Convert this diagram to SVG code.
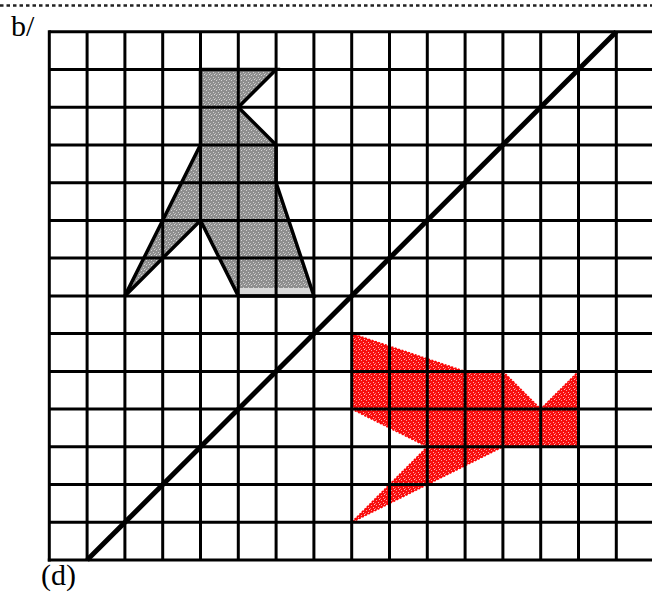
<svg xmlns="http://www.w3.org/2000/svg" width="652" height="592" viewBox="0 0 652 592">
<style>
.grid line{stroke:#000;stroke-width:3}
.lbl{font-family:"Liberation Serif","Times New Roman",serif;font-size:30px;fill:#000}
</style>
<defs>
<pattern id="grayTex" width="5" height="5" patternUnits="userSpaceOnUse">
<rect width="5" height="5" fill="#8e8e8e"/>
<rect x="1" y="0" width="1" height="1" fill="#d4d4d4"/>
<rect x="3" y="2" width="1" height="1" fill="#d0d0d0"/>
<rect x="0" y="3" width="1" height="1" fill="#bdbdbd"/>
<rect x="4" y="4" width="1" height="1" fill="#d8d8d8"/>
<rect x="2" y="4" width="1" height="1" fill="#a6a6a6"/>
</pattern>
<pattern id="redTex" width="5" height="5" patternUnits="userSpaceOnUse">
<rect width="5" height="5" fill="#f80f0f"/>
<rect x="1" y="0" width="1" height="1" fill="#ff9a9a"/>
<rect x="3" y="2" width="1" height="1" fill="#ffb0b0"/>
<rect x="0" y="3" width="1" height="1" fill="#ff7070"/>
<rect x="4" y="4" width="1" height="1" fill="#ffc0c0"/>
</pattern>
</defs>
<rect width="652" height="592" fill="#fff"/>
<line x1="0" y1="5.5" x2="652" y2="5.5" stroke="#222" stroke-width="2.5" stroke-dasharray="3.5,3"/>
<text class="lbl" x="11" y="36">b/</text>
<text class="lbl" x="41" y="585">(d)</text>
<g id="red-shape">
<polygon points="351.7,333.6 465.1,371.4 502.9,371.4 540.7,409.1 578.5,371.4 578.5,446.8 502.9,446.8 351.7,522.3 427.3,446.8 351.7,409.1" fill="url(#redTex)" stroke="#f00" stroke-width="1.5" stroke-dasharray="2,1.5"/>
</g>
<g id="gray-fill">
<polygon points="200.5,69.4 276.1,69.4 238.3,107.2 276.1,144.9 276.1,182.7 313.9,295.9 238.3,295.9 200.5,220.4 124.9,295.9 200.5,144.9" fill="url(#grayTex)"/>
<polygon points="238.3,288 311.3,288 313.9,295.9 238.3,295.9" fill="#d8d8d8"/>
</g>
<g id="grid" class="grid">
<line x1="49.3" y1="31.7" x2="652" y2="31.7"/>
<line x1="49.3" y1="69.4" x2="652" y2="69.4"/>
<line x1="49.3" y1="107.2" x2="652" y2="107.2"/>
<line x1="49.3" y1="144.9" x2="652" y2="144.9"/>
<line x1="49.3" y1="182.7" x2="652" y2="182.7"/>
<line x1="49.3" y1="220.4" x2="652" y2="220.4"/>
<line x1="49.3" y1="258.1" x2="652" y2="258.1"/>
<line x1="49.3" y1="295.9" x2="652" y2="295.9"/>
<line x1="49.3" y1="333.6" x2="652" y2="333.6"/>
<line x1="49.3" y1="371.4" x2="652" y2="371.4"/>
<line x1="49.3" y1="409.1" x2="652" y2="409.1"/>
<line x1="49.3" y1="446.8" x2="652" y2="446.8"/>
<line x1="49.3" y1="484.6" x2="652" y2="484.6"/>
<line x1="49.3" y1="522.3" x2="652" y2="522.3"/>
<line x1="47.8" y1="560.1" x2="652" y2="560.1"/>
<line x1="49.3" y1="30.2" x2="49.3" y2="561.6"/>
<line x1="87.1" y1="31.7" x2="87.1" y2="560.1"/>
<line x1="124.9" y1="31.7" x2="124.9" y2="560.1"/>
<line x1="162.7" y1="31.7" x2="162.7" y2="560.1"/>
<line x1="200.5" y1="31.7" x2="200.5" y2="560.1"/>
<line x1="238.3" y1="31.7" x2="238.3" y2="560.1"/>
<line x1="276.1" y1="31.7" x2="276.1" y2="560.1"/>
<line x1="313.9" y1="31.7" x2="313.9" y2="560.1"/>
<line x1="351.7" y1="31.7" x2="351.7" y2="560.1"/>
<line x1="389.5" y1="31.7" x2="389.5" y2="560.1"/>
<line x1="427.3" y1="31.7" x2="427.3" y2="560.1"/>
<line x1="465.1" y1="31.7" x2="465.1" y2="560.1"/>
<line x1="502.9" y1="31.7" x2="502.9" y2="560.1"/>
<line x1="540.7" y1="31.7" x2="540.7" y2="560.1"/>
<line x1="578.5" y1="31.7" x2="578.5" y2="560.1"/>
<line x1="616.3" y1="31.7" x2="616.3" y2="560.1"/>
</g>
<g id="gray-shape">
<polygon points="200.5,69.4 276.1,69.4 238.3,107.2 276.1,144.9 276.1,182.7 313.9,295.9 238.3,295.9 200.5,220.4 124.9,295.9 200.5,144.9" fill="none" stroke="#000" stroke-width="3.5" stroke-linejoin="miter"/>
</g>
<g id="diagonal">
<line x1="87.1" y1="560.1" x2="616.3" y2="31.7" stroke="#000" stroke-width="5"/>
</g>
</svg>
